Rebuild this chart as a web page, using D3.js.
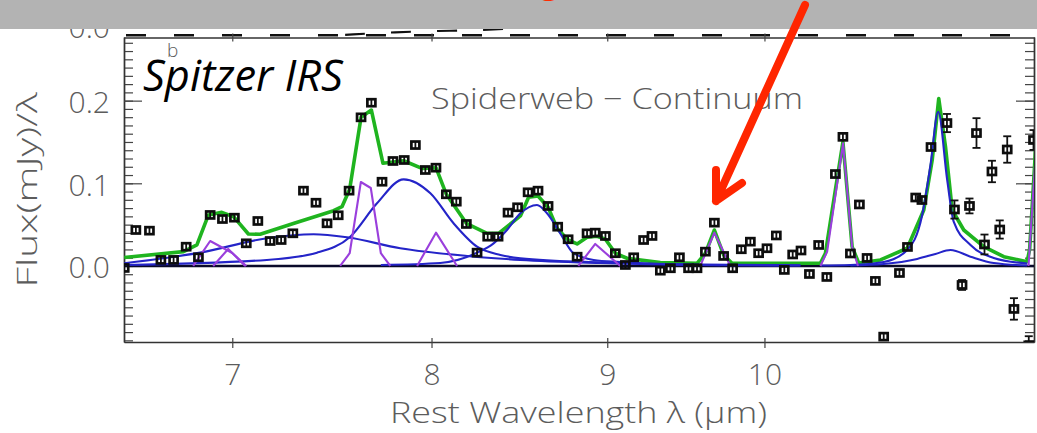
<!DOCTYPE html>
<html><head><meta charset="utf-8">
<script src="https://cdn.jsdelivr.net/npm/d3@7"></script>
<style>body{margin:0;background:#fff;} svg{display:block;}</style>
</head><body>
<svg id="c" width="1037" height="433"></svg>
<script>
// ---------- data ----------
const xTickValues = [7, 8, 9, 10];
const yTickValues = [0.0, 0.1, 0.2];

const obsLambda = [6.511,6.562,6.622,6.673,6.730,6.787,6.843,6.897,6.954,7.010,7.066,7.121,7.180,7.233,7.290,7.342,7.404,7.459,7.515,7.570,
  7.631,7.684,7.739,7.796,7.855,7.914,7.967,8.024,8.080,8.134,8.189,8.248,8.307,8.365,8.421,8.475,8.535,8.592,8.650,8.706,
  8.767,8.820,8.879,8.928,8.989,9.049,9.110,9.161,9.222,9.274,9.326,9.389,9.446,9.504,9.558,9.612,9.670,9.730,9.789,9.846,
  9.906,9.961,10.017,10.080,10.134,10.191,10.248,10.306,10.370,10.427,10.487,10.540,10.593,10.657,10.712,10.772,10.832,10.947,11.006,11.067,
  11.113,11.181,11.301,11.358,11.416,11.473,11.527,11.589,11.647,11.708,11.767,11.820,11.938,11.976];
const obsFlux = [-0.0024,0.0435,0.0427,0.0073,0.0073,0.0233,0.0105,0.0617,0.0568,0.0584,0.0274,0.0544,0.0302,0.0314,0.0395,0.0911,0.0765,0.0516,0.0613,0.0911,
  0.1798,0.1975,0.1019,0.1270,0.1282,0.1463,0.1161,0.1189,0.0867,0.0778,0.0508,0.0161,0.0354,0.0354,0.0645,0.0710,0.0891,0.0911,0.0726,0.0475,
  0.0323,0.0112,0.0395,0.0403,0.0363,0.0154,0.0012,0.0105,0.0314,0.0363,-0.0057,-0.0028,0.0105,-0.0028,-0.0028,0.0173,0.0524,0.0121,-0.0028,0.0202,
  0.0294,0.0154,0.0214,0.0369,-0.0048,0.0139,0.0187,-0.0097,0.0254,-0.0133,0.1112,0.1562,0.0151,0.0744,0.0097,-0.0181,-0.0855,-0.0085,0.0230,0.0828,
  0.0798,0.1439,0.1729,0.0683,-0.0230,0.0726,0.1608,0.0260,0.1143,0.0441,0.1409,-0.0520,-0.0960,0.1524];
const obsErr = [0.004,0.004,0.004,0.004,0.004,0.004,0.004,0.004,0.004,0.004,0.004,0.004,0.004,0.004,0.004,0.004,0.004,0.004,0.004,0.004,
  0.004,0.004,0.004,0.004,0.004,0.004,0.004,0.004,0.004,0.004,0.004,0.004,0.004,0.004,0.004,0.004,0.004,0.004,0.004,0.004,
  0.004,0.004,0.004,0.004,0.004,0.004,0.004,0.004,0.004,0.004,0.004,0.004,0.004,0.004,0.004,0.004,0.004,0.004,0.004,0.004,
  0.004,0.004,0.004,0.004,0.004,0.004,0.004,0.004,0.004,0.004,0.004,0.004,0.004,0.004,0.004,0.005,0.004,0.005,0.005,0.005,
  0.005,0.004,0.011,0.011,0.006,0.009,0.018,0.012,0.013,0.011,0.016,0.013,0.011,0.012];

const totalFit = [[6.511,0.0103],[6.775,0.0173],[6.836,0.0254],[6.889,0.0617],[6.951,0.0649],[7.006,0.0596],[7.076,0.0387],[7.132,0.0383],
  [7.300,0.0520],[7.492,0.0669],[7.534,0.0717],[7.573,0.0927],[7.631,0.1798],[7.684,0.1886],[7.744,0.1242],[7.852,0.1273],[7.949,0.1181],
  [8.024,0.1189],[8.080,0.0867],[8.189,0.0516],[8.303,0.0395],[8.368,0.0395],[8.491,0.0605],[8.538,0.0831],[8.592,0.0846],[8.650,0.0710],
  [8.702,0.0456],[8.767,0.0314],[8.820,0.0266],[8.879,0.0347],[8.939,0.0359],[8.989,0.0323],[9.049,0.0154],[9.120,0.0093],[9.326,0.0040],
  [9.558,0.0032],[9.612,0.0154],[9.670,0.0435],[9.730,0.0133],[9.785,0.0032],[10.382,0.0032],[10.417,0.0154],[10.540,0.1499],[10.605,0.0233],
  [10.652,0.0036],[10.808,0.0073],[11.004,0.0214],[11.127,0.0677],[11.190,0.1282],[11.239,0.2025],[11.290,0.1443],[11.341,0.0677],
  [11.429,0.0435],[11.583,0.0233],[11.740,0.0112],[11.925,0.0052],[11.945,0.0200],[12.0,0.16]];

const blueDrude74 = [[6.511,0.0033],[6.851,0.0161],[7.164,0.0335],[7.392,0.0383],[7.559,0.0347],[7.834,0.0214],[8.193,0.0121],[8.491,0.0073],[8.958,0.0036],[9.579,0.0012],[10.244,0.0006]];
const blueDrude78 = [[6.511,0.0012],[7.164,0.0073],[7.409,0.0161],[7.576,0.0354],[7.713,0.0758],[7.852,0.1048],[7.994,0.0879],[8.119,0.0516],[8.248,0.0233],[8.378,0.0133],[8.491,0.0093],[8.958,0.0042],[9.579,0.0018],[10.244,0.0008]];
const blueDrude86 = [[7.733,0.0012],[8.047,0.0036],[8.248,0.0161],[8.340,0.0274],[8.415,0.0435],[8.491,0.0637],[8.586,0.0738],[8.644,0.0637],[8.721,0.0395],[8.799,0.0154],[8.918,0.0073],[9.079,0.0048],[9.326,0.0024],[9.709,0.0010]];
const blueDrude113 = [[10.382,0.0006],[10.593,0.0012],[10.832,0.0048],[11.004,0.0193],[11.115,0.0617],[11.177,0.1221],[11.235,0.1866],[11.303,0.1040],[11.353,0.0532],[11.481,0.0254],[11.661,0.0097],[11.925,0.0030]];
const blueDrude113b = [[10.593,0.0006],[10.832,0.0024],[11.078,0.0085],[11.214,0.0145],[11.328,0.0193],[11.481,0.0112],[11.661,0.0036],[11.925,0.0006]];

const purpleLine69 = [[6.819,0],[6.897,0.0302],[7.000,0.0157],[7.066,0]];
const purpleLine70 = [[6.911,0],[6.981,0.0206],[7.061,0]];
const purpleLine77 = [[7.525,0],[7.573,0.0154],[7.630,0.1016],[7.681,0.0943],[7.733,0.0154],[7.782,0]];
const purpleLine80 = [[7.923,0],[8.024,0.0403],[8.138,0]];
const purpleLine89 = [[8.827,0],[8.928,0.0266],[9.079,0]];
const purpleLine97 = [[9.579,0],[9.670,0.0403],[9.774,0]];
const purpleLine105 = [[10.382,0],[10.429,0.0173],[10.541,0.1484],[10.605,0.0233],[10.647,0]];
const purpleLine12 = [[11.936,0],[12.0,0.15]];

// remnant of the panel above (cropped)
const upperFlat = [[6.51,0.0025],[11.98,0.0025]];
const upperRising = [[7.55,0.003],[7.8,0.0062],[8.1,0.0078],[8.4,0.009],[8.7,0.016]];

// ---------- scales ----------
const svg = d3.select('#c');
const L = 124, R = 1034, T = 37, B = 342;
const x = d3.scaleLog().domain([6.51, 11.98]).range([L, R]);
const y = d3.scaleLinear().domain([-0.092, 0.277]).range([B, T]);
const yUpper = d3.scaleLinear().domain([0, 0.1]).range([37.5, -50]);

const FONT = "'Open Sans', 'DejaVu Sans', sans-serif";
const GREY = '#5c5c5c';

svg.append('rect').attr('width',1037).attr('height',433).attr('fill','#fff');

svg.append('defs').append('clipPath').attr('id','plotclip')
  .append('rect').attr('x',L).attr('y',T).attr('width',R-L).attr('height',B-T);

// upper panel remnants
const lineU = d3.line().x(d=>x(d[0])).y(d=>yUpper(d[1]));
svg.append('path').datum(upperFlat).attr('d',lineU).attr('fill','none')
  .attr('stroke','#111').attr('stroke-width',2.6).attr('stroke-dasharray','20,28').attr('stroke-dashoffset','-2');
svg.append('path').datum(upperRising).attr('d',lineU.curve(d3.curveBasis)).attr('fill','none')
  .attr('stroke','#111').attr('stroke-width',2.2).attr('stroke-dasharray','20,26');
svg.append('text').attr('x',110).attr('y',38).attr('text-anchor','end')
  .attr('font-family',FONT).attr('font-size',30).attr('font-weight',300).attr('fill',GREY).text('0.0');

// ---------- axes ----------
const minorY = d3.range(-9, 28).map(i => i/100);
function styleAxis(g){ g.selectAll('path.domain').attr('stroke','#333').attr('stroke-width',1.4);
  g.selectAll('.tick line').attr('stroke','#444').attr('stroke-width',1.2); }

svg.append('g').attr('transform',`translate(${L},0)`)
  .call(d3.axisLeft(y).tickValues(minorY).tickSize(-9).tickSizeOuter(0).tickFormat(''))
  .call(styleAxis);
const yAxisG = svg.append('g').attr('transform',`translate(${L},0)`)
  .call(d3.axisLeft(y).tickValues(yTickValues).tickSize(-18).tickSizeOuter(0).tickPadding(14).tickFormat(d3.format('.1f')))
  .call(styleAxis);
yAxisG.selectAll('text').attr('font-family',FONT).attr('font-size',30).attr('font-weight',300).attr('fill',GREY).attr('dy','0.4em');

svg.append('g').attr('transform',`translate(${R},0)`)
  .call(d3.axisRight(y).tickValues(minorY).tickSize(-9).tickSizeOuter(0).tickFormat(''))
  .call(styleAxis);
svg.append('g').attr('transform',`translate(${R},0)`)
  .call(d3.axisRight(y).tickValues(yTickValues).tickSize(-18).tickSizeOuter(0).tickFormat(''))
  .call(styleAxis);

const xAxisG = svg.append('g').attr('transform',`translate(0,${B})`)
  .call(d3.axisBottom(x).tickValues(xTickValues).tickSize(6).tickSizeOuter(0).tickPadding(16).tickFormat(d3.format('d')))
  .call(styleAxis);
xAxisG.selectAll('.tick line').attr('y1',-4);
xAxisG.selectAll('text').attr('font-family',FONT).attr('font-size',30).attr('font-weight',300).attr('fill',GREY);

const topAxisG = svg.append('g').attr('transform',`translate(0,${T+0.5})`)
  .call(d3.axisTop(x).tickValues(xTickValues).tickSize(4).tickSizeOuter(0).tickFormat(''))
  .call(styleAxis);
topAxisG.selectAll('.tick line').attr('y1',4);

// ---------- model curves ----------
const plot = svg.append('g').attr('clip-path','url(#plotclip)');
const line = d3.line().x(d=>x(d[0])).y(d=>y(d[1]));

plot.append('line').attr('x1',L).attr('x2',R).attr('y1',y(0)).attr('y2',y(0))
  .attr('stroke','#0a0a2a').attr('stroke-width',2.6);

plot.append('path').datum(totalFit).attr('d',line).attr('fill','none')
  .attr('stroke','#1fb41f').attr('stroke-width',3.6).attr('stroke-linejoin','round');

[blueDrude74, blueDrude78, blueDrude86, blueDrude113, blueDrude113b].forEach(c=>{
  plot.append('path').datum(c).attr('d',line.curve(d3.curveMonotoneX)).attr('fill','none')
    .attr('stroke','#2424c8').attr('stroke-width',2.1);
});
line.curve(d3.curveLinear);
[purpleLine69, purpleLine70, purpleLine77, purpleLine80, purpleLine89, purpleLine97, purpleLine105, purpleLine12].forEach(c=>{
  plot.append('path').datum(c).attr('d',line).attr('fill','none')
    .attr('stroke','#9a3fdc').attr('stroke-width',2.1).attr('stroke-linejoin','round');
});

// ---------- observed points ----------
const pts = obsLambda.map((l,i)=>({l, f:obsFlux[i], e:obsErr[i]}));
const pg = plot.selectAll('g.pt').data(pts).join('g').attr('class','pt');
pg.append('line').attr('x1',d=>x(d.l)).attr('x2',d=>x(d.l))
  .attr('y1',d=>y(d.f-d.e)).attr('y2',d=>y(d.f+d.e)).attr('stroke','#111').attr('stroke-width',1.8);
pg.filter(d=>d.e>0.005).each(function(d){
  const g = d3.select(this);
  [d.f-d.e, d.f+d.e].forEach(v=>g.append('line').attr('x1',x(d.l)-4).attr('x2',x(d.l)+4)
     .attr('y1',y(v)).attr('y2',y(v)).attr('stroke','#111').attr('stroke-width',1.8));
});
pg.append('rect').attr('x',d=>x(d.l)-4).attr('y',d=>y(d.f)-3.5).attr('width',8).attr('height',7)
  .attr('fill','none').attr('stroke','#0d0d0d').attr('stroke-width',2.7);

// ---------- texts ----------
svg.append('text').attr('x',431).attr('y',109).attr('font-family',FONT).attr('font-size',29).attr('font-weight',300)
  .attr('fill',GREY).attr('textLength',372).attr('lengthAdjust','spacingAndGlyphs').text('Spiderweb \u2212 Continuum');
svg.append('text').attr('x',167).attr('y',57).attr('font-family',FONT).attr('font-size',19).attr('font-weight',300)
  .attr('fill',GREY).text('b');
svg.append('text').attr('x',143).attr('y',91).attr('font-family',FONT).attr('font-size',43).attr('font-style','italic')
  .attr('fill','#000').attr('textLength',200).attr('lengthAdjust','spacingAndGlyphs').text('Spitzer IRS');
svg.append('text').attr('transform','translate(37,190) rotate(-90)').attr('text-anchor','middle')
  .attr('font-family',FONT).attr('font-size',28).attr('font-weight',300).attr('fill',GREY)
  .attr('textLength',195).attr('lengthAdjust','spacingAndGlyphs').text('Flux(mJy)/\u03bb');
svg.append('text').attr('x',390).attr('y',423).attr('font-family',FONT).attr('font-size',29).attr('font-weight',300)
  .attr('fill',GREY).attr('textLength',377).attr('lengthAdjust','spacingAndGlyphs').text('Rest Wavelength \u03bb (\u03bcm)');

// ---------- slide banner + arrow ----------
svg.append('rect').attr('x',0).attr('y',0).attr('width',1037).attr('height',29).attr('fill','#b3b3b3');
svg.append('text').attr('x',540).attr('y',-7).attr('font-family',FONT).attr('font-size',34).attr('font-weight',700)
  .attr('fill','#ff2a00').text('g');
svg.append('path').attr('d','M805,5 L716,201 M716,170 L716,201 L742,183').attr('fill','none')
  .attr('stroke','#ff2600').attr('stroke-width',8).attr('stroke-linecap','round').attr('stroke-linejoin','round');
</script>
</body></html>
